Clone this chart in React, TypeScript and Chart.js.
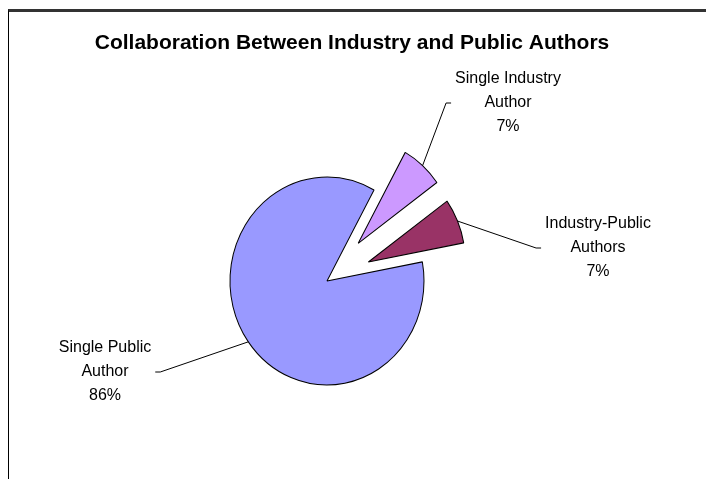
import React, { useEffect, useRef } from "react";
import { Chart, registerables } from "chart.js";

Chart.register(...registerables);

const categories = ["Single Industry Author", "Industry-Public Authors", "Single Public Author"];
const labelLines = [
  ["Single Industry", "Author"],
  ["Industry-Public", "Authors"],
  ["Single Public", "Author"],
];
const shares = [7, 7, 86];
const colors = ["#CC99FF", "#993366", "#9999FF"];
const titleText = "Collaboration Between Industry and Public Authors";

const FONT = '"Liberation Sans", Arial, sans-serif';

const explodePlugin = {
  id: "explode",
  afterDatasetUpdate(chart: any, args: any, opts: any) {
    const meta = args.meta;
    meta.data.forEach((arc: any, i: number) => {
      const d = (opts.distances && opts.distances[i]) || 0;
      const mid = (arc.startAngle + arc.endAngle) / 2;
      arc.x += Math.cos(mid) * d;
      arc.y += Math.sin(mid) * d;
    });
  },
  beforeDatasetsDraw(chart: any, _args: any, opts: any) {
    const ctx = chart.ctx;
    const a = chart.chartArea;
    const cx = (a.left + a.right) / 2;
    const cy = (a.top + a.bottom) / 2;
    ctx.save();
    ctx.translate(cx, cy);
    ctx.scale(1, opts.scaleY || 1);
    ctx.translate(-cx, -cy);
  },
  afterDatasetsDraw(chart: any) {
    chart.ctx.restore();
  },
};

const labelPlugin = {
  id: "sliceLabels",
  afterDraw(chart: any, _args: any, opts: any) {
    const ctx = chart.ctx;
    const a = chart.chartArea;
    const cx = (a.left + a.right) / 2;
    const cy = (a.top + a.bottom) / 2;
    const sy = opts.scaleY || 1;
    const meta = chart.getDatasetMeta(0);
    const data = chart.data.datasets[0].data as number[];
    const total = data.reduce((s, v) => s + v, 0);
    ctx.save();
    // title
    ctx.fillStyle = "#000";
    ctx.font = `bold 21px ${FONT}`;
    ctx.textAlign = "center";
    ctx.textBaseline = "middle";
    ctx.fillText(titleText, chart.width / 2 + opts.titleDx, opts.titleY);

    ctx.font = `16px ${FONT}`;
    meta.data.forEach((arc: any, i: number) => {
      const mid = (arc.startAngle + arc.endAngle) / 2;
      const R = arc.outerRadius;
      const px = arc.x + Math.cos(mid) * R;
      const py = cy + (arc.y - cy + Math.sin(mid) * R) * sy;
      const lines = [...labelLines[i], `${Math.round((data[i] / total) * 100)}%`];
      const pos = opts.positions[i];
      const lx = cx + pos[0];
      const ly = cy + pos[1];
      const lh = 24;
      const widest = Math.max(...lines.map((t) => ctx.measureText(t).width));
      const right = lx > px;
      const tickEnd = right ? lx - widest / 2 - 4 : lx + widest / 2 + 4;
      const tickStart = right ? tickEnd - 5 : tickEnd + 5;
      ctx.strokeStyle = "#000";
      ctx.lineWidth = 1;
      ctx.beginPath();
      ctx.moveTo(px, py);
      ctx.lineTo(tickStart, ly);
      ctx.lineTo(tickEnd, ly);
      ctx.stroke();
      ctx.fillStyle = "#000";
      lines.forEach((t, k) => {
        ctx.fillText(t, lx, ly + (k - 1) * lh);
      });
    });
    ctx.restore();
  },
};

export default function App() {
  const ref = useRef<HTMLCanvasElement | null>(null);
  useEffect(() => {
    if (!ref.current) return;
    const chart = new Chart(ref.current, {
      type: "pie",
      data: {
        labels: categories,
        datasets: [
          {
            data: shares,
            backgroundColor: colors,
            borderColor: "#000",
            borderWidth: 1,
            radius: 97,
            clip: false,
          } as any,
        ],
      },
      options: {
        responsive: false,
        animation: false,
        events: [],
        rotation: 29,
        layout: { padding: { top: 71, left: 0, right: 61, bottom: 0 } },
        plugins: {
          legend: { display: false },
          tooltip: { enabled: false },
          title: { display: false },
          explode: { distances: [47, 45, 0], scaleY: 1.072 },
          sliceLabels: {
            scaleY: 1.072,
            titleDx: -5.5,
            titleY: 31,
            positions: [
              [181, -178],
              [271, -33],
              [-222, 91],
            ],
          },
        } as any,
      },
      plugins: [explodePlugin, labelPlugin],
    });
    return () => chart.destroy();
  }, []);

  return (
    <div
      style={{
        position: "absolute",
        left: 8,
        top: 9,
        width: 697,
        height: 467,
        borderTop: "3px solid #333",
        borderLeft: "1px solid #000",
        background: "#fff",
      }}
    >
      <canvas ref={ref} width={697} height={467} style={{ display: "block" }} />
    </div>
  );
}
